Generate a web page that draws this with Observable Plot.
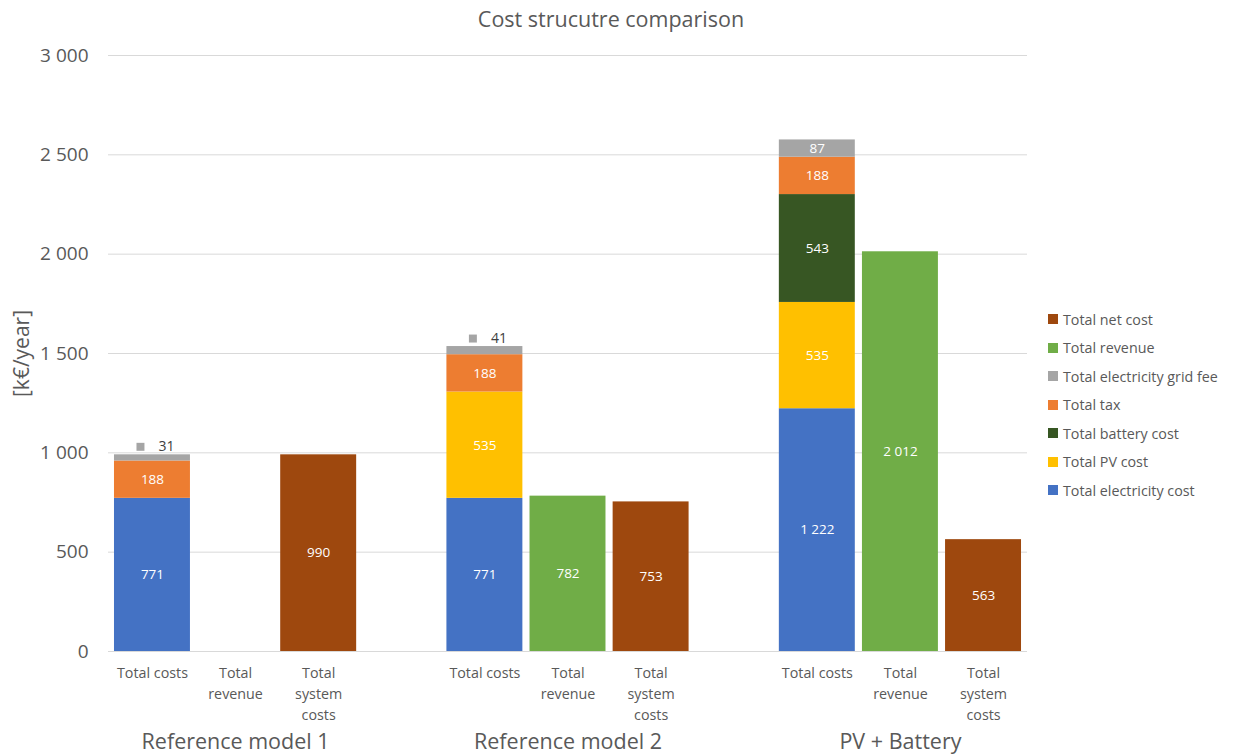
<!DOCTYPE html>
<html>
<head>
<meta charset="utf-8">
<script src="https://cdn.jsdelivr.net/npm/d3@7"></script>
<script src="https://cdn.jsdelivr.net/npm/@observablehq/plot@0.6"></script>
<style>
  body { margin: 0; background: #fff; font-family: "Open Sans", sans-serif; }
  #wrap { position: relative; width: 1237px; height: 755px; }
  #title { position: absolute; left: 0; top: 4px; width: 1222px; text-align: center; font-size: 21.5px; line-height: 30px; color: #595959; }
  #legend { position: absolute; left: 1048px; top: 305px; font-size: 14.3px; color: #595959; }
  #legend .item { height: 28.5px; display: flex; align-items: center; }
  #legend .sw { width: 10px; height: 10px; margin-right: 5px; }
  svg { position: absolute; left: 0; top: 0; }
</style>
</head>
<body>
<div id="wrap">
  <div id="chart"></div>
  <div id="title">Cost strucutre comparison</div>
  <div id="legend"></div>
</div>
<script>
const groups = ["Reference model 1", "Reference model 2", "PV + Battery"];
const categories = ["Total costs", "Total revenue", "Total system costs"];
const categoryLabels = ["Total costs", "Total\nrevenue", "Total\nsystem\ncosts"];
const series = ["Total electricity cost", "Total PV cost", "Total battery cost", "Total tax", "Total electricity grid fee", "Total revenue", "Total net cost"];
const seriesColors = ["#4472C4", "#FFC000", "#375623", "#ED7D31", "#A5A5A5", "#70AD47", "#9E480E"];
const legendOrder = ["Total net cost", "Total revenue", "Total electricity grid fee", "Total tax", "Total battery cost", "Total PV cost", "Total electricity cost"];

const electricityCost = [771, 771, 1222];
const pvCost = [0, 535, 535];
const batteryCost = [0, 0, 543];
const taxCost = [188, 188, 188];
const gridFee = [31, 41, 87];
const gridFeeLabelOutside = [true, true, false];
const revenue = [0, 782, 2012];
const netCost = [990, 753, 563];
const yTicks = [0, 500, 1000, 1500, 2000, 2500, 3000];

const fmt = d3.formatLocale({decimal: ",", thousands: " ", grouping: [3], currency: ["", ""]}).format(",");

// x domain: categories per group with blank gap slots between groups
const key = (g, c) => g + "|" + c;
const xDomain = [];
groups.forEach((g, gi) => {
  categories.forEach(c => xDomain.push(key(g, c)));
  if (gi < groups.length - 1) xDomain.push("gap" + gi);
});
const tickLabel = k => {
  const i = categories.indexOf(k.split("|")[1]);
  return i >= 0 ? categoryLabels[i] : "";
};

const rows = [];
groups.forEach((g, i) => {
  const costParts = [electricityCost[i], pvCost[i], batteryCost[i], taxCost[i], gridFee[i]];
  costParts.forEach((v, j) => {
    if (v > 0) rows.push({x: key(g, "Total costs"), series: series[j], value: v,
      inside: !(j === 4 && gridFeeLabelOutside[i])});
  });
  if (revenue[i] > 0) rows.push({x: key(g, "Total revenue"), series: "Total revenue", value: revenue[i], inside: true});
  if (netCost[i] > 0) rows.push({x: key(g, "Total system costs"), series: "Total net cost", value: netCost[i], inside: true});
});

const outside = [];
groups.forEach((g, i) => {
  if (gridFeeLabelOutside[i]) {
    outside.push({x: key(g, "Total costs"),
      total: electricityCost[i] + pvCost[i] + batteryCost[i] + taxCost[i] + gridFee[i],
      label: fmt(gridFee[i])});
  }
});

const groupLabels = groups.map(g => ({x: key(g, "Total revenue"), label: g}));

const chart = Plot.plot({
  width: 1237,
  height: 755,
  marginTop: 55,
  marginBottom: 104,
  marginLeft: 108,
  marginRight: 210,
  style: {fontFamily: "Open Sans, sans-serif", background: "transparent"},
  x: {domain: xDomain, paddingInner: 0.086, paddingOuter: 0.072, round: false, axis: null},
  y: {domain: [0, 3000], axis: null},
  color: {domain: series, range: seriesColors},
  marks: [
    Plot.ruleY(yTicks, {stroke: "#d9d9d9", strokeWidth: 1}),
    Plot.axisY({ticks: yTicks, tickSize: 0, tickPadding: 20, tickFormat: fmt, fontSize: 19, fill: "#595959", label: null}),
    Plot.axisX({tickSize: 0, tickPadding: 12, tickFormat: tickLabel, fontSize: 14.3, fill: "#595959", lineHeight: 1.47, label: null}),
    Plot.barY(rows, {x: "x", y: "value", fill: "series"}),
    Plot.text(rows.filter(d => d.inside), Plot.stackY({x: "x", y: "value", text: d => fmt(d.value), fill: "white", fontSize: 13.5})),
    Plot.dot(outside, {x: "x", y: "total", symbol: "square", r: 4.5, fill: "#A5A5A5", dx: -12, dy: -8}),
    Plot.text(outside, {x: "x", y: "total", text: "label", dx: 14, dy: -8, fontSize: 14, fill: "#404040"}),
    Plot.text(groupLabels, {x: "x", frameAnchor: "bottom", dy: 97, text: "label", fontSize: 21.5, fill: "#595959"}),
    Plot.text(["[k€/year]"], {frameAnchor: "left", dx: -86, rotate: -90, textAnchor: "middle", text: d => d, fontSize: 21, fill: "#595959"})
  ]
});
document.getElementById("chart").appendChild(chart);

const legend = document.getElementById("legend");
legendOrder.forEach(s => {
  const item = document.createElement("div");
  item.className = "item";
  const sw = document.createElement("span");
  sw.className = "sw";
  sw.style.background = seriesColors[series.indexOf(s)];
  const t = document.createElement("span");
  t.textContent = s;
  item.appendChild(sw);
  item.appendChild(t);
  legend.appendChild(item);
});
</script>
</body>
</html>
